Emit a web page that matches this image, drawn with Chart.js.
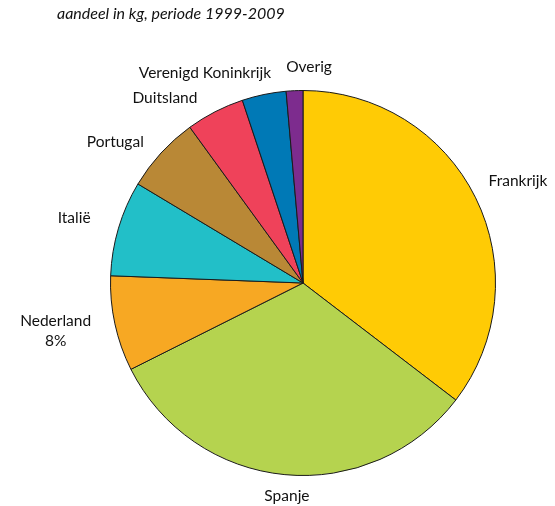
<!DOCTYPE html>
<html>
<head>
<meta charset="utf-8">
<script src="https://cdn.jsdelivr.net/npm/chart.js@4/dist/chart.umd.min.js"></script>
<style>
  html, body { margin: 0; padding: 0; background: #fff; }
  #wrap { position: relative; width: 555px; height: 506px; }
</style>
</head>
<body>
<div id="wrap"><canvas id="pieChart" width="555" height="506"></canvas></div>
<script>
// data (percent of weight, 1999-2009)
var countries = ['Frankrijk', 'Spanje', 'Nederland', 'Italië', 'Portugal', 'Duitsland', 'Verenigd Koninkrijk', 'Overig'];
var shares = [35.4, 32.2, 8.0, 8.0, 6.4, 4.9, 3.7, 1.4];
var sliceColors = ['#ffcb05', '#b5d34f', '#f7a823', '#22bfc8', '#b98836', '#ef425a', '#0079b6', '#7d2c8e'];
var labelLines = [['Frankrijk'], ['Spanje'], ['Nederland', '8%'], ['Italië'], ['Portugal'], ['Duitsland'], ['Verenigd Koninkrijk'], ['Overig']];
var titleText = 'aandeel in kg, periode 1999-2009';

// label placement around the pie: angle (deg, clockwise from top) and distance from centre
var labelAngle = [64.6, 184.3, 259, 285.9, 307, 323.3, 335, 1.6];
var labelDist = [238, 214, 252, 238, 235, 231, 232, 216];

document.addEventListener("DOMContentLoaded", function () {
    var ctx = document.getElementById('pieChart').getContext('2d');
    var fontFam = 'Lato, "Open Sans", sans-serif';

    var labelPlugin = {
        id: 'outerLabels',
        afterDraw: function (chart) {
            var c = chart.ctx;
            var arc = chart.getDatasetMeta(0).data[0];
            var cx = arc.x, cy = arc.y;
            c.save();
            c.fillStyle = '#111';
            c.font = '15.5px ' + fontFam;
            c.textAlign = 'center';
            c.textBaseline = 'middle';
            labelLines.forEach(function (lines, i) {
                var a = labelAngle[i] * Math.PI / 180;
                var x = cx + labelDist[i] * Math.sin(a);
                var y = cy - labelDist[i] * Math.cos(a);
                var y0 = y - (lines.length - 1) * 10;
                lines.forEach(function (t, j) {
                    c.fillText(t, x, y0 + j * 20);
                });
            });
            // title
            c.font = 'italic 16px ' + fontFam;
            c.textAlign = 'left';
            c.fillText(titleText, 57, 14);
            c.restore();
        }
    };

    new Chart(ctx, {
        type: 'pie',
        data: {
            labels: countries,
            datasets: [{
                data: shares,
                backgroundColor: sliceColors,
                borderColor: '#1a1a1a',
                borderWidth: 1
            }]
        },
        options: {
            responsive: false,
            animation: false,
            layout: { padding: { left: 110, right: 59, top: 90, bottom: 30 } },
            plugins: {
                legend: { display: false },
                tooltip: { enabled: false }
            }
        },
        plugins: [labelPlugin]
    });
});
</script>
</body>
</html>
